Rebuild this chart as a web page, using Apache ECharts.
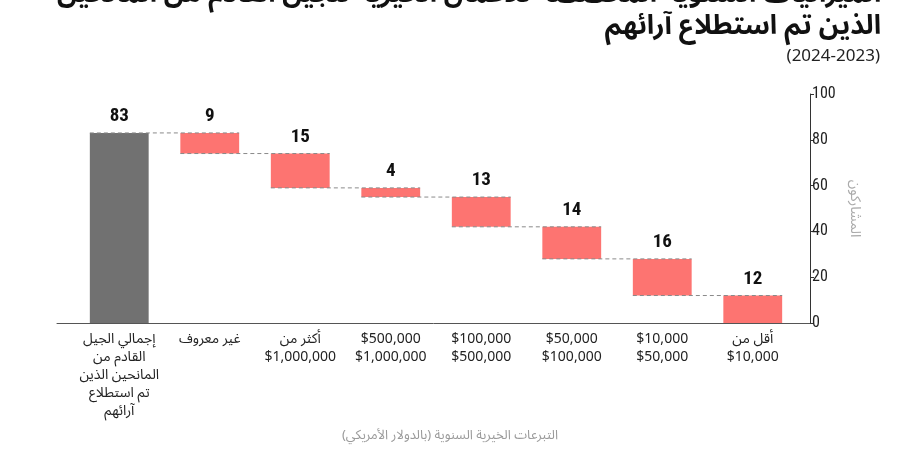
<!DOCTYPE html>
<html><head><meta charset="utf-8">
<script src="https://cdn.jsdelivr.net/npm/echarts@6/dist/echarts.min.js"></script>
<style>html,body{margin:0;padding:0;background:#fff}#c{width:900px;height:450px}</style>
</head><body><div id="c"></div>
<script>
var categories = [
  'إجمالي الجيل\nالقادم من\nالمانحين الذين\nتم استطلاع\nآرائهم',
  'غير معروف',
  'أكثر من\n$1,000,000',
  '$500,000\n$1,000,000',
  '$100,000\n$500,000',
  '$50,000\n$100,000',
  '$10,000\n$50,000',
  'أقل من\n$10,000'
];
var values = [83, 9, 15, 4, 13, 14, 16, 12];
var yTicks = [0, 20, 40, 60, 80, 100];
var titleLine1 = 'الميزانيات السنوية المخصصة للأعمال الخيرية للجيل القادم من المانحين';
var titleLine2 = 'الذين تم استطلاع آرائهم';
var subText = '(2024-2023)';
var xName = 'التبرعات الخيرية السنوية (بالدولار الأمريكي)';
var yName = 'المشاركون';

var bases = [], shown = [], running = values[0];
values.forEach(function (v, i) {
  if (i === 0) { bases.push(0); shown.push({value: v, itemStyle: {color: '#717171'}}); }
  else { running -= v; bases.push(running); shown.push({value: v, itemStyle: {color: '#fd7471'}}); }
});
var connectors = [];
for (var i = 0; i < values.length - 1; i++) {
  connectors.push([i, bases[i + 1] + values[i + 1]]);
}
var arFont = "'Noto Sans Arabic','DejaVu Sans',sans-serif";
var numFont = "'Liberation Sans Narrow','Roboto Condensed','Liberation Sans',sans-serif";
var titleStyle = {fontFamily: arFont, fontSize: 27, fontWeight: 'bold', color: '#111'};
var chart = echarts.init(document.getElementById('c'));
chart.setOption({
  animation: false,
  title: [{
    text: titleLine1, right: 14, top: -21, textStyle: titleStyle
  }, {
    text: titleLine2, right: 14, top: 11, textStyle: titleStyle
  }, {
    text: subText, right: 15, top: 45,
    textStyle: {fontFamily: arFont, fontSize: 17, fontWeight: 'normal', color: '#222'}
  }, {
    text: xName, left: 'center', top: 426,
    textStyle: {fontFamily: arFont, fontSize: 13, fontWeight: 'normal', color: '#9a9a9a'}
  }],
  grid: [
    {left: 74, right: 102, top: 94, bottom: 127},
    {left: 57, right: 90, top: 94, bottom: 127}
  ],
  xAxis: [{
    type: 'category', data: categories, gridIndex: 0,
    axisLine: {show: false}, axisTick: {show: false},
    axisLabel: {interval: 0, fontFamily: arFont, fontSize: 14, lineHeight: 18, color: '#222', margin: 9}
  }, {
    type: 'value', gridIndex: 1, min: 0, max: 1,
    axisLine: {show: true, onZero: false, lineStyle: {color: '#555', width: 1}},
    axisTick: {show: false}, axisLabel: {show: false}, splitLine: {show: false}
  }],
  yAxis: [{
    type: 'value', gridIndex: 0, position: 'right', offset: 12,
    min: yTicks[0], max: yTicks[yTicks.length - 1], interval: 20,
    name: yName, nameLocation: 'middle', nameRotate: -90, nameGap: 34,
    nameTextStyle: {fontFamily: arFont, fontSize: 14, color: '#aaa'},
    axisLine: {show: true, lineStyle: {color: '#333'}},
    axisTick: {show: true, length: 4, lineStyle: {color: '#333'}},
    axisLabel: {fontFamily: numFont, fontSize: 16, color: '#222', margin: 2},
    splitLine: {show: false}
  }, {
    type: 'value', gridIndex: 1, show: false
  }],
  series: [{
    type: 'bar', stack: 'w', data: bases, barWidth: '65%',
    itemStyle: {color: 'transparent'}, silent: true
  }, {
    type: 'bar', stack: 'w', data: shown, barWidth: '65%',
    label: {show: true, position: 'top', distance: 7, fontFamily: numFont, fontWeight: 'bold', fontSize: 19, color: '#111'}
  }, {
    type: 'custom', data: connectors, z: 5,
    renderItem: function (params, api) {
      var i = api.value(0), L = api.value(1);
      var bw = api.size([1, 0])[0] * 0.65;
      var p1 = api.coord([i, L]), p2 = api.coord([i + 1, L]);
      return {
        type: 'line',
        shape: {x1: p1[0] - bw / 2, y1: p1[1], x2: p2[0] + bw / 2, y2: p1[1]},
        style: {stroke: '#8a8a8a', lineWidth: 1, lineDash: [4, 3]}
      };
    }
  }]
});
</script></body></html>
